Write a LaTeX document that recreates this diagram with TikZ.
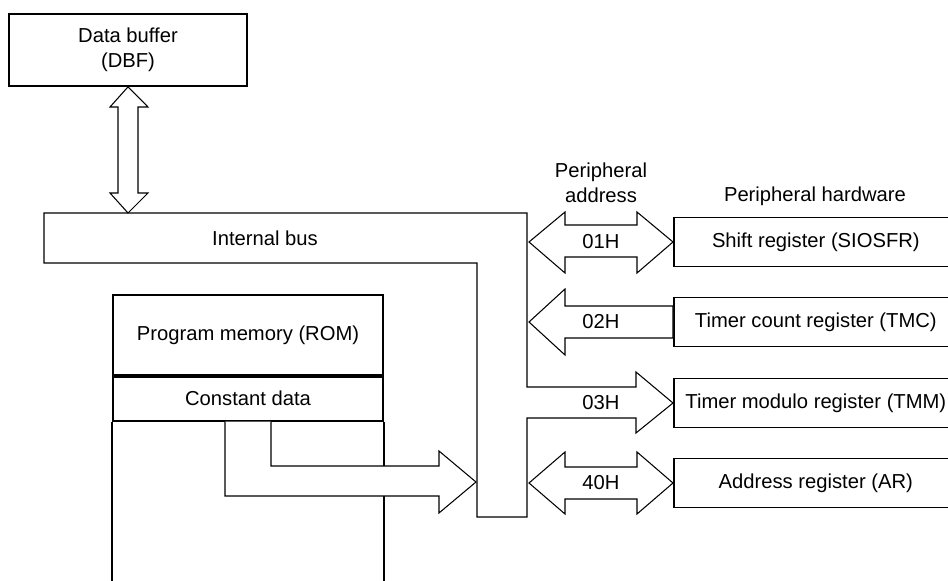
\documentclass[tikz,border=0pt]{standalone}
\usepackage{fontspec}
\setmainfont{Liberation Sans}
\usetikzlibrary{positioning,calc}

\begin{document}
\begin{tikzpicture}[
        x=0.02cm, y=-0.02cm,
        every node/.style={font=\fontsize{11.5}{14.5}\selectfont},
        box/.style={draw, line width=1pt, inner sep=0pt, text centered},
        regbox/.style={box, anchor=west, minimum width=5.68cm, minimum height=0.98cm},
        fat/.style={draw, fill=white, line width=0.6pt, line join=miter},
    ]
    \useasboundingbox (0,0) rectangle (948,581);
    \clip (0,0) rectangle (948,581);
    \coordinate (floor) at (0,600);

    % data buffer
    \node[box, minimum width=4.76cm, minimum height=1.44cm, align=center] (dbf) at (128,50) {Data buffer\\(DBF)};

    % peripheral hardware
    \node[regbox] (sio) at (673,242) {Shift register (SIOSFR)};
    \node[regbox] (tmc) at (673,322) {Timer count register (TMC)};
    \node[regbox] (tmm) at (673,403) {Timer modulo register (TMM)};
    \node[regbox] (ar) at (673,483) {Address register (AR)};
    \node (hw) at (815,196) {Peripheral hardware};
    \node[align=center] (paddr) at (601,183) {Peripheral\\address};

    % internal bus, with the branch to TMM
    \draw[fat] (44,213) -- (527,213) -- (527,387) -- (636,387) -- (636,372) -- (tmm.west)
        -- (636,433) -- (636,418) -- (527,418) -- (527,517) -- (477,517) -- (477,263) -- (44,263) -- cycle;
    \node (bus) at (265,238) {Internal bus};
    \node (a03) at (601,403) {03H};

    % data buffer <-> bus
    \draw[fat] (dbf.south) -- (148,107) -- (138,107) -- (138,193) -- (148,193) -- (128,213)
        -- (110,193) -- (118,193) -- (118,107) -- (110,107) -- cycle;

    % bus <-> registers
    \draw[fat] (529,242) -- (565,212) -- (565,225) -- (637,225) -- (637,212) -- (sio.west)
        -- (637,273) -- (637,257) -- (565,257) -- (565,273) -- cycle;
    \node (a01) at (601,242) {01H};
    \draw[fat] (529,322) -- (565,289) -- (565,306) -- ($(tmc.west)+(0,-16)$)
        -- ($(tmc.west)+(0,16)$) -- (565,338) -- (565,355) -- cycle;
    \node (a02) at (601,322) {02H};
    \draw[fat] (529,483) -- (565,452) -- (565,467) -- (637,467) -- (637,452) -- (ar.west)
        -- (637,514) -- (637,499) -- (565,499) -- (565,514) -- cycle;
    \node (a40) at (601,483) {40H};

    % program memory
    \node[box, minimum width=5.4cm, minimum height=1.6cm] (rom) at (248,335) {Program memory (ROM)};
    \node[box, below=0pt of rom, minimum width=5.4cm, minimum height=0.88cm] (cdata) {Constant data};
    \draw[line width=1pt] (cdata.south west) -- (cdata.south west |- floor);
    \draw[line width=1pt] (cdata.south east) -- (cdata.south east |- floor);

    % constant data -> bus
    \draw[fat] (cdata.south -| 225,0) -- (225,496) -- (439,496) -- (439,513) -- (476,482)
        -- (439,451) -- (439,466) -- (271,466) -- (cdata.south -| 271,0);
\end{tikzpicture}
\end{document}
